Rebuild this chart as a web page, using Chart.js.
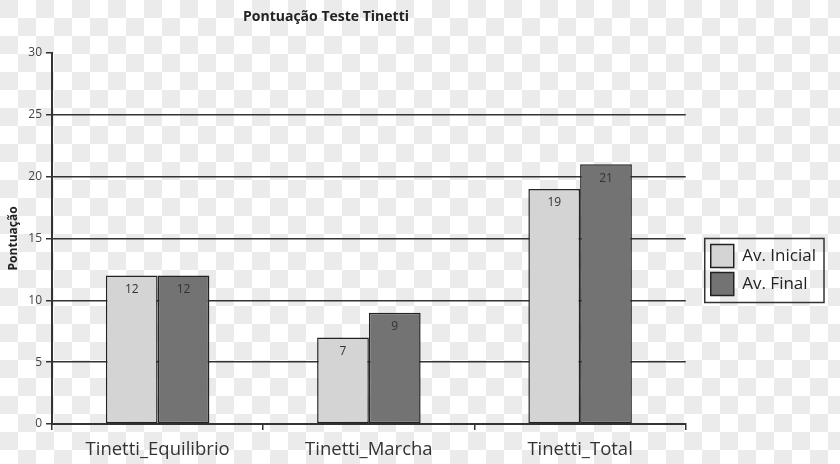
<!DOCTYPE html>
<html>
<head>
<meta charset="utf-8">
<script src="https://cdn.jsdelivr.net/npm/chart.js@4.4.1/dist/chart.umd.min.js"></script>
<style>
  html, body { margin: 0; padding: 0; }
  body {
    width: 840px; height: 464px; overflow: hidden;
    background-color: #ffffff;
    background-image: conic-gradient(#ebebeb 25%, #ffffff 0 50%, #ebebeb 0 75%, #ffffff 0);
    background-size: 36px 36px;
    background-position: 18px 0;
  }
  #wrap { width: 840px; height: 464px; }
</style>
</head>
<body>
<div id="wrap"><canvas id="tinetti_chart"></canvas></div>
<script>
"use strict";
var categories = ["Tinetti_Equilibrio", "Tinetti_Marcha", "Tinetti_Total"];
var avInicial = [12, 7, 19];
var avFinal = [12, 9, 21];
var yTicks = [0, 5, 10, 15, 20, 25, 30];

var fontName = "'Open Sans', 'DejaVu Sans', sans-serif";

/* valores dentro das barras */
var barLabelPlugin = {
  id: "barLabels",
  afterDatasetsDraw: function (chart) {
    var ctx = chart.ctx;
    ctx.save();
    ctx.fillStyle = "#333333";
    ctx.font = "12px " + fontName;
    ctx.textAlign = "center";
    ctx.textBaseline = "middle";
    chart.data.datasets.forEach(function (dataset, i) {
      var meta = chart.getDatasetMeta(i);
      meta.data.forEach(function (bar, index) {
        ctx.fillText(dataset.data[index], bar.x, bar.y + 14);
      });
    });
    ctx.restore();
  }
};

/* posição do título e moldura da legenda */
var layoutPlugin = {
  id: "layoutTweaks",
  afterLayout: function (chart) {
    var lg = chart.legend;
    lg.top += 38;
    lg.bottom += 38;
    lg.left += 20;
    lg.right += 20;
    var tb = chart.titleBlock;
    tb.left -= 77;
    tb.right -= 77;
  },
  afterDraw: function (chart) {
    var lg = chart.legend;
    if (!lg || !lg.columnSizes || !lg.columnSizes.length) return;
    var lab = lg.options.labels;
    var pad = lab.padding;
    var col = lg.columnSizes[0];
    var ctx = chart.ctx;
    ctx.save();
    ctx.font = lab.font.size + "px " + fontName;
    var textW = 0;
    chart.data.datasets.forEach(function (d) {
      textW = Math.max(textW, ctx.measureText(d.label).width);
    });
    var w = lab.boxWidth + lab.font.size / 2 + textW + 14;
    var x0 = lg.left + pad;
    var y0 = (lg.top + pad + lg.bottom - col.height) / 2;
    ctx.strokeStyle = "#333333";
    ctx.lineWidth = 1.5;
    ctx.strokeRect(x0 - 6, y0 - 6, w, col.height + 8);
    ctx.restore();
  }
};

var data = {
  labels: categories,
  datasets: [
    {
      label: "Av. Inicial",
      data: avInicial,
      backgroundColor: "#d4d4d4",
      borderColor: "#222222",
      borderWidth: 1.5,
      borderSkipped: false
    },
    {
      label: "Av. Final",
      data: avFinal,
      backgroundColor: "#737373",
      borderColor: "#222222",
      borderWidth: 1.5,
      borderSkipped: false
    }
  ]
};

var options = {
  responsive: true,
  maintainAspectRatio: false,
  animation: false,
  layout: { padding: { top: 0, right: 34, bottom: 0, left: 0 } },
  datasets: {
    bar: { categoryPercentage: 0.49, barPercentage: 1.0 }
  },
  plugins: {
    title: {
      display: true,
      text: "Pontuação Teste Tinetti",
      color: "#222222",
      font: { family: fontName, size: 14, weight: "bold" },
      padding: { top: 9, bottom: 27 }
    },
    legend: {
      position: "right",
      labels: {
        boxWidth: 23,
        boxHeight: 23,
        padding: 5,
        color: "#222222",
        font: { family: fontName, size: 17 }
      }
    },
    tooltip: { enabled: false }
  },
  scales: {
    y: {
      min: 0,
      max: 30,
      afterFit: function (s) { s.width = 52; },
      afterBuildTicks: function (s) {
        s.ticks = yTicks.map(function (v) { return { value: v }; });
      },
      ticks: {
        color: "#444444",
        padding: 4,
        font: { family: fontName, size: 12 }
      },
      title: {
        display: true,
        text: "Pontuação",
        color: "#222222",
        font: { family: fontName, size: 12, weight: "bold" },
        padding: { top: 6, bottom: 0 }
      },
      grid: {
        color: function (c) {
          return (c.tick && (c.tick.value === 30 || c.tick.value === 0)) ? "rgba(0,0,0,0)" : "#333333";
        },
        tickColor: "#333333",
        lineWidth: 1.5,
        tickLength: 6
      },
      border: { color: "#333333", width: 2 }
    },
    x: {
      afterFit: function (s) { s.height = 40; },
      ticks: {
        color: "#333333",
        padding: 9,
        font: { family: fontName, size: 18.5 }
      },
      grid: {
        offset: true,
        drawOnChartArea: false,
        color: "#333333",
        lineWidth: 1.5,
        tickLength: 6
      },
      border: { color: "#333333", width: 2 }
    }
  }
};

new Chart("tinetti_chart", {
  type: "bar",
  data: data,
  options: options,
  plugins: [barLabelPlugin, layoutPlugin]
});
</script>
</body>
</html>
